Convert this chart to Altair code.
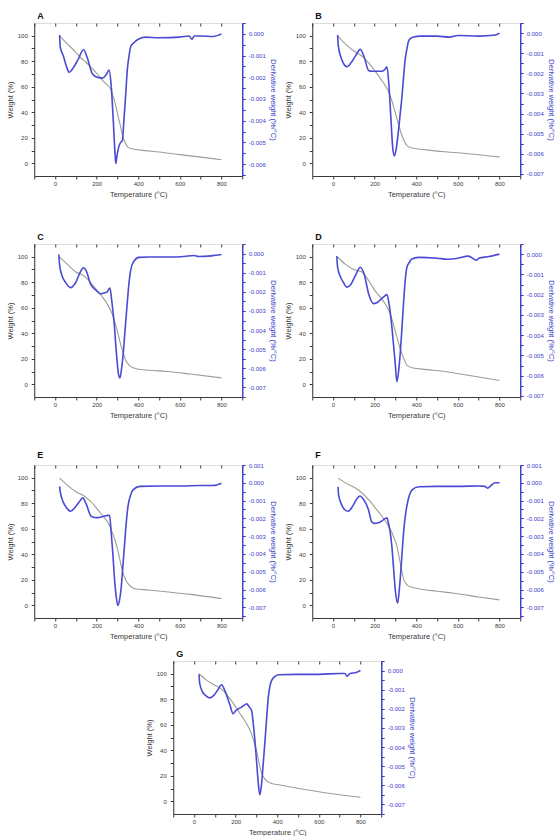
import altair as alt
import pandas as pd

# ---- Panel A ----
A_wt = [24, 60, 100, 124, 150, 180, 203, 240, 268, 280, 292, 303, 315, 324, 335, 348, 365, 411, 500, 600, 700, 800]
A_wv = [99.5, 93.5, 87, 82.7, 79, 74, 70, 63, 58, 52, 45, 37, 29, 22, 17, 13, 11.5, 10.3, 8.8, 6.8, 4.8, 2.8]
A_dt = [22, 25, 40, 55, 68, 85, 110, 137, 155, 180, 203, 228, 245, 260, 270, 280, 287, 292, 298, 308, 316, 324, 331, 339, 348, 356, 364, 380, 396, 436, 500, 600, 645, 658, 670, 700, 760, 800]
A_dv = [-0.00005, -0.0006, -0.00102, -0.0015, -0.00177, -0.0016, -0.0012, -0.00072, -0.0011, -0.00185, -0.002, -0.00204, -0.0019, -0.00167, -0.0024, -0.0040, -0.0053, -0.00598, -0.0056, -0.00515, -0.0050, -0.0049, -0.0040, -0.0029, -0.0016, -0.0010, -0.00057, -0.0004, -0.00027, -0.00015, -0.00018, -0.00015, -0.0001, -0.00025, -0.0001, -0.0001, -0.00012, 0.0]

# ---- Panel B ----
B_wt = [24, 60, 100, 139, 180, 203, 230, 251, 270, 283, 295, 307, 319, 331, 343, 355, 379, 450, 539, 650, 800]
B_wv = [99.5, 93.5, 88, 84, 77, 72, 66, 61, 55, 49, 42, 35, 28, 22, 17, 14, 12, 10.5, 9, 7.5, 5]
B_dt = [22, 25, 35, 50, 67, 85, 110, 131, 150, 171, 190, 203, 220, 235, 250, 259, 268, 278, 287, 295, 303, 315, 323, 331, 339, 347, 355, 363, 375, 387, 420, 500, 560, 600, 700, 780, 800]
B_dv = [-0.0001, -0.0006, -0.0011, -0.0015, -0.00167, -0.0015, -0.0011, -0.00081, -0.0012, -0.00186, -0.0019, -0.0019, -0.0019, -0.0019, -0.0018, -0.00167, -0.0025, -0.0042, -0.0057, -0.0061, -0.0058, -0.0048, -0.0040, -0.0032, -0.0022, -0.0013, -0.0008, -0.0004, -0.00025, -0.0002, -0.00015, -0.00015, -0.0002, -0.00012, -0.00015, -0.0001, 0.0]

# ---- Panel C ----
C_wt = [20, 60, 100, 139, 180, 203, 230, 251, 275, 287, 299, 311, 323, 331, 339, 351, 363, 395, 450, 539, 650, 800]
C_wv = [100, 94, 88, 85, 78, 73.4, 68, 63, 55, 49, 42, 34, 27, 23, 19, 16, 14, 12, 11, 10, 8, 5]
C_dt = [18, 22, 35, 50, 75, 100, 120, 136, 150, 171, 195, 219, 240, 251, 264, 273, 283, 295, 305, 312, 320, 328, 338, 347, 355, 363, 379, 403, 450, 550, 620, 667, 690, 750, 800]
C_dv = [-0.00005, -0.0006, -0.0012, -0.0015, -0.00178, -0.0015, -0.001, -0.00074, -0.0009, -0.0016, -0.0019, -0.0021, -0.00205, -0.002, -0.0018, -0.0025, -0.0035, -0.0052, -0.0063, -0.0065, -0.0060, -0.0052, -0.0038, -0.0026, -0.0016, -0.0009, -0.0004, -0.0002, -0.00018, -0.00018, -0.00015, -0.0001, -0.00015, -0.00012, -0.00005]

# ---- Panel D ----
D_wt = [20, 60, 100, 139, 180, 203, 230, 251, 270, 283, 295, 307, 319, 331, 343, 355, 379, 450, 539, 650, 800]
D_wv = [100, 94, 90, 88, 79, 73, 68, 63, 57, 51, 44, 37, 30, 24, 19, 15, 13, 11.5, 10, 7, 3]
D_dt = [18, 22, 35, 50, 67, 85, 110, 131, 150, 171, 195, 210, 225, 245, 259, 270, 283, 291, 299, 307, 315, 323, 331, 339, 347, 355, 367, 379, 411, 500, 550, 600, 650, 690, 700, 750, 800]
D_dv = [-0.0001, -0.00065, -0.0011, -0.0014, -0.00163, -0.0015, -0.001, -0.00065, -0.001, -0.00195, -0.00244, -0.0024, -0.00228, -0.0021, -0.002, -0.0025, -0.0036, -0.0045, -0.0054, -0.0063, -0.0058, -0.0049, -0.0037, -0.0024, -0.0013, -0.00065, -0.0004, -0.00024, -0.00016, -0.0002, -0.00025, -0.0002, -0.0001, -0.0003, -0.0002, -0.00012, 0.0]

# ---- Panel E ----
E_wt = [22, 60, 100, 141, 180, 205, 230, 254, 278, 290, 302, 310, 318, 326, 334, 346, 359, 383, 450, 545, 650, 800]
E_wv = [99.7, 94, 89, 85.5, 80, 75, 70, 65, 56, 50, 43, 37, 31, 26, 22, 18, 15.5, 13, 12, 10.4, 8.5, 5.2]
E_dt = [22, 25, 40, 55, 76, 95, 115, 133, 150, 173, 190, 205, 230, 254, 262, 270, 278, 286, 294, 302, 310, 318, 326, 334, 342, 351, 363, 375, 407, 500, 600, 700, 760, 800]
E_dv = [-0.0002, -0.0005, -0.0011, -0.0014, -0.0016, -0.0014, -0.0011, -0.00085, -0.0012, -0.00187, -0.00195, -0.00196, -0.0019, -0.00183, -0.00183, -0.0028, -0.0040, -0.0054, -0.0064, -0.0069, -0.0066, -0.0059, -0.0047, -0.0035, -0.0023, -0.0013, -0.0007, -0.0004, -0.0002, -0.00018, -0.00018, -0.00015, -0.00015, -0.00002]

# ---- Panel F ----
F_wt = [24, 60, 121, 170, 200, 234, 260, 283, 295, 307, 315, 323, 331, 339, 351, 364, 412, 500, 574, 700, 800]
F_wv = [99.7, 96, 90.6, 83, 77, 70, 64, 57, 52, 46.5, 40, 33.5, 27, 20.5, 17, 15, 13, 11, 9.6, 6.5, 4.2]
F_dt = [24, 27, 40, 55, 73, 95, 115, 129, 150, 170, 186, 200, 218, 240, 259, 267, 275, 283, 291, 300, 310, 317, 323, 331, 339, 347, 355, 367, 380, 412, 500, 600, 700, 730, 743, 760, 780, 800]
F_dv = [-0.00022, -0.0007, -0.0012, -0.0015, -0.0016, -0.0013, -0.0009, -0.00074, -0.001, -0.0015, -0.0022, -0.00228, -0.00225, -0.0021, -0.00197, -0.0023, -0.0028, -0.0036, -0.0048, -0.0061, -0.00676, -0.0062, -0.0054, -0.0041, -0.0028, -0.0019, -0.0013, -0.0007, -0.0004, -0.00022, -0.0002, -0.0002, -0.00018, -0.0002, -0.0003, -0.00015, 0.0, 0.0]

# ---- Panel G ----
G_wt = [24, 60, 100, 132, 165, 196, 220, 245, 265, 277, 289, 301, 309, 317, 325, 341, 357, 374, 420, 470, 600, 800]
G_wv = [100, 95, 91, 88, 82, 75, 69, 63, 57, 52.6, 46, 39.6, 33, 26.6, 22, 17.4, 15, 14, 12.5, 11, 7.5, 3.1]
G_dt = [24, 27, 40, 55, 76, 95, 115, 132, 150, 172, 188, 200, 213, 230, 245, 253, 265, 277, 285, 293, 301, 309, 316, 325, 333, 341, 349, 357, 365, 374, 390, 406, 500, 600, 700, 725, 736, 750, 780, 800]
G_dv = [-0.0002, -0.00066, -0.0011, -0.0013, -0.00143, -0.0013, -0.001, -0.00074, -0.0011, -0.00178, -0.00226, -0.0021, -0.002, -0.0019, -0.00178, -0.00174, -0.0019, -0.0021, -0.0028, -0.0037, -0.0048, -0.0059, -0.0065, -0.0059, -0.0048, -0.0037, -0.0025, -0.0014, -0.0008, -0.0005, -0.0003, -0.00022, -0.0002, -0.0002, -0.00015, -0.00015, -0.0003, -0.00015, -0.0001, 0.0]

# right-axis ranges for each panel
A_dom = [-0.00655, 0.0005]
B_dom = [-0.0071, 0.0005]
C_dom = [-0.0075, 0.0005]
D_dom = [-0.00705, 0.0005]
E_dom = [-0.0076, 0.001]
F_dom = [-0.0076, 0.001]
G_dom = [-0.0075, 0.0005]

BLUE = "#4a4ad4"
AXBLUE = "#3c3cc8"
GREY = "#9d9d95"
INK = "#3a3a3a"
FONT = "Liberation Sans"
W, H = 208, 153
LBL, TTL = 6, 7.5

# bottom/top ticks every 100 degC (labels every 200), weight ticks every 10 % (labels every 20)
x_ticks = list(range(-100, 901, 100))
w_ticks = list(range(0, 101, 10))
x_scale = alt.Scale(domain=[-100, 900], nice=False, zero=False)


def d_ticks(dom):
    # derivative-axis ticks every 0.0005, labelled every 0.001
    lo = int(round(dom[0] * 2000))
    hi = int(round(dom[1] * 2000))
    return [round(k / 2000, 4) for k in range(lo, hi + 1) if dom[0] - 1e-9 <= k / 2000 <= dom[1] + 1e-9]


def panel(letter, wt, wv, dt, dv, ddom):
    dfw = pd.DataFrame({"t": wt, "w": wv})
    dfd = pd.DataFrame({"t": dt, "d": dv})
    weight = alt.Chart(dfw).mark_line(
        color=GREY, strokeWidth=1.1, interpolate="monotone"
    ).encode(
        x=alt.X("t:Q", scale=x_scale,
                axis=alt.Axis(values=x_ticks, orient="bottom",
                              labelExpr="(datum.value % 200 == 0 && datum.value >= 0 && datum.value <= 800) ? datum.label : ''",
                              title="Temperature (°C)", grid=False,
                              labelFontSize=LBL, titleFontSize=TTL, titleFontWeight="normal",
                              labelPadding=1, titlePadding=4, tickSize=3,
                              labelColor=INK, titleColor=INK, tickColor=INK, domainColor=INK)),
        y=alt.Y("w:Q", scale=alt.Scale(domain=[-10, 110], nice=False, zero=False),
                axis=alt.Axis(values=w_ticks, orient="left",
                              labelExpr="datum.value % 20 == 0 ? datum.label : ''",
                              title="Weight (%)", grid=False,
                              labelFontSize=LBL, titleFontSize=TTL, titleFontWeight="normal",
                              labelPadding=4, titlePadding=3, tickSize=3,
                              labelColor=INK, titleColor=INK, tickColor=INK, domainColor=INK)),
    )
    deriv = alt.Chart(dfd).mark_line(
        color=BLUE, strokeWidth=1.6, interpolate="monotone"
    ).encode(
        x=alt.X("t:Q", scale=x_scale,
                axis=alt.Axis(values=x_ticks, orient="top", labels=False, title=None,
                              domain=False, grid=False, offset=-3, tickSize=3,
                              tickColor=INK)),
        y=alt.Y("d:Q", scale=alt.Scale(domain=ddom, nice=False, zero=False),
                axis=alt.Axis(values=d_ticks(ddom), orient="right",
                              labelExpr="abs(round(datum.value * 10000)) % 10 == 0 ? replace(format(datum.value, '.3f'), '\u2212', '-') : ''",
                              title="Derivative weight (%/°C)", grid=False,
                              labelFontSize=LBL, titleFontSize=TTL, titleFontWeight="normal",
                              labelPadding=3, titlePadding=3, tickSize=3,
                              domainColor=AXBLUE, domainWidth=1.4, tickColor=AXBLUE,
                              labelColor=AXBLUE, titleColor=AXBLUE)),
    )
    return alt.layer(weight, deriv).resolve_scale(y="independent").resolve_axis(
        x="independent"
    ).properties(
        width=W, height=H,
        title=alt.TitleParams(letter, anchor="start", frame="group", dx=3,
                              fontSize=9, fontWeight="bold", font=FONT, offset=2,
                              color="#111111"),
    )


pA = panel("A", A_wt, A_wv, A_dt, A_dv, A_dom)
pB = panel("B", B_wt, B_wv, B_dt, B_dv, B_dom)
pC = panel("C", C_wt, C_wv, C_dt, C_dv, C_dom)
pD = panel("D", D_wt, D_wv, D_dt, D_dv, D_dom)
pE = panel("E", E_wt, E_wv, E_dt, E_dv, E_dom)
pF = panel("F", F_wt, F_wv, F_dt, F_dv, F_dom)
pG = panel("G", G_wt, G_wv, G_dt, G_dv, G_dom)

top_rows = alt.vconcat(
    alt.hconcat(pA, pB, spacing=6),
    alt.hconcat(pC, pD, spacing=6),
    spacing=34,
)
grid = alt.vconcat(top_rows, alt.hconcat(pE, pF, spacing=6), spacing=31)

chart = alt.vconcat(grid, pG, spacing=9, center=True).properties(
    padding={"left": 5, "top": 11, "right": 0, "bottom": 0}
).configure_view(
    stroke="#222222", strokeWidth=1.2
).configure_axis(
    labelFont=FONT, titleFont=FONT,
).configure(background="white")

chart.save("out.html", embed_options={"renderer": "svg", "actions": False})
